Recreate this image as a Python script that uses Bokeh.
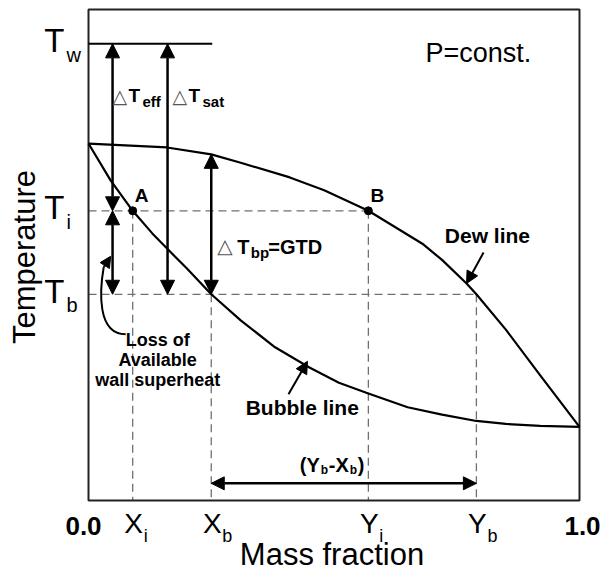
import numpy as np
from bokeh.plotting import figure
from bokeh.models import Range1d, Label, Arrow, NormalHead
from bokeh.embed import file_html
from bokeh.resources import INLINE

# ---------------- data ----------------
dew_x = [0.0, 0.16, 0.25, 0.31, 0.41, 0.48, 0.57, 0.68, 0.72, 0.77, 0.79, 0.85, 0.92, 1.0]
dew_t = [0.727, 0.719, 0.705, 0.688, 0.658, 0.632, 0.59, 0.523, 0.49, 0.442, 0.42, 0.348, 0.255, 0.15]
bub_x = [0.0, 0.045, 0.09, 0.13, 0.165, 0.2, 0.25, 0.31, 0.38, 0.45, 0.51, 0.57, 0.65, 0.72, 0.79, 0.85, 0.92, 1.0]
bub_t = [0.727, 0.652, 0.59, 0.544, 0.508, 0.473, 0.42, 0.367, 0.312, 0.271, 0.24, 0.218, 0.19, 0.175, 0.162, 0.156, 0.152, 0.15]

T_w, T_i, T_b = 0.93, 0.59, 0.42
X_i, X_b, Y_i, Y_b = 0.09, 0.25, 0.57, 0.79

y_tick_vals = [T_w, T_i, T_b]
y_tick_main = ["T", "T", "T"]
y_tick_subs = ["w", "i", "b"]
x_tick_vals = [X_i, X_b, Y_i, Y_b]
x_tick_main = ["X", "X", "Y", "Y"]
x_tick_subs = ["i", "b", "i", "b"]
end_tick_vals = [0.0, 1.0]
end_tick_labels = ["0.0", "1.0"]

# ---------------- layout ----------------
W, H = 615, 573
BOX = 491                 # pixels per data unit (square plotting box)
LEFT, BOTTOM = 88, 73     # room for the axis texts, in pixels
FONT = "Liberation Sans"
BASE_SHIFT = 0.36         # label anchor sits this many em above the baseline

p = figure(width=W, height=H,
           x_range=Range1d(-LEFT / BOX, (W - LEFT) / BOX),
           y_range=Range1d(-BOTTOM / BOX, (H - BOTTOM) / BOX),
           x_axis_type=None, y_axis_type=None, toolbar_location=None,
           output_backend="svg", min_border=0)
p.outline_line_color = None
p.background_fill_color = "white"
p.border_fill_color = "white"


def off(x, t, dx, dy):
    """data point shifted by screen pixels (dx right, dy down)"""
    return x + dx / BOX, t - dy / BOX


def lab(x, y, text, dx=0, dy=0, size=20, bold=False, align="left",
        font=FONT, color="black", angle=0.0):
    """dx, dy: offset (px, right / down) of the text baseline from the data point"""
    if angle:
        dx = dx - BASE_SHIFT * size
    else:
        dy = dy - BASE_SHIFT * size
    p.add_layout(Label(x=x, y=y, x_offset=dx, y_offset=-dy, text=text,
                       text_font=font, text_font_size=f"{size}px",
                       text_font_style="bold" if bold else "normal",
                       text_align=align, text_baseline="alphabetic",
                       text_color=color, angle=angle))


def arrow(x0, y0, x1, y1, both=True, size=14, width=2.5):
    head = lambda: NormalHead(size=size, fill_color="black", line_color="black", line_width=1)
    p.add_layout(Arrow(x_start=x0, y_start=y0, x_end=x1, y_end=y1,
                       start=head() if both else None, end=head(),
                       line_color="black", line_width=width))


# dashed guide lines
DASH = dict(line_color="#707070", line_width=1.3, line_dash="8 5")
p.segment(x0=[0, 0], y0=[T_i, T_b], x1=[Y_i, Y_b], y1=[T_i, T_b], **DASH)
p.segment(x0=x_tick_vals, y0=[T_i, T_b, T_i, T_b], x1=x_tick_vals,
          y1=[0, 0, 0, 0], **DASH)

# plotting box (mass fraction 0..1, temperature axis)
p.quad(left=[0], right=[1], bottom=[0], top=[1], fill_color=None,
       line_color="#222222", line_width=2)

# wall temperature line
p.segment(x0=[0], y0=[T_w], x1=[0.252], y1=[T_w], line_color="black", line_width=2)

# dew and bubble lines
p.line(dew_x, dew_t, line_color="black", line_width=2.2, line_join="round")
p.line(bub_x, bub_t, line_color="black", line_width=2.2, line_join="round")

# points A and B
p.scatter([X_i, Y_i], [T_i, T_i], size=8, color="black")

# ---------------- arrows ----------------
AX1, AX2 = 0.049, 0.161
arrow(AX1, T_w, AX1, T_i)
arrow(AX1, T_i, AX1, T_b)
arrow(AX2, T_w, AX2, T_b)
arrow(X_b, float(np.interp(X_b, dew_x, dew_t)), X_b, T_b)
arrow(X_b, 0.035, Y_b, 0.035, size=13)

# leader arrows to the lines
dx0 = 0.77
tip = (dx0, float(np.interp(dx0, dew_x, dew_t)))
arrow(*off(*tip, 17, -31), *tip, both=False, size=12, width=2)
bx0 = 0.446
tipb = off(bx0, float(np.interp(bx0, bub_x, bub_t)), 0, -5)
arrow(*off(*tipb, -19, 33), *tipb, both=False, size=12, width=2)

# curved leader for "Loss of available wall superheat"
P0 = off(X_i, T_b, -7, 40)
C0 = off(X_i, T_b, -36, 40)
C1 = off(X_i, T_b, -33, -4)
P1 = off(X_i, T_b, -29, -27)
p.bezier(x0=[P0[0]], y0=[P0[1]], x1=[P1[0]], y1=[P1[1]],
         cx0=[C0[0]], cy0=[C0[1]], cx1=[C1[0]], cy1=[C1[1]],
         line_color="black", line_width=2)
arrow(*P1, *off(X_i, T_b, -22, -38), both=False, size=11, width=2)

# ---------------- texts ----------------
for v, m, s in zip(y_tick_vals, y_tick_main, y_tick_subs):
    lab(0, v, m, dx=-24, dy=9, size=33, align="right")
    lab(0, v, s, dx=-22, dy=18, size=20)

for v, m, s in zip(x_tick_vals, x_tick_main, x_tick_subs):
    lab(v, 0, m, dx=1, dy=33, size=28, align="center")
    lab(v, 0, s, dx=11, dy=42, size=18)

for v, t, d in zip(end_tick_vals, end_tick_labels, [-5, 3]):
    lab(v, 0, t, dx=d, dy=35, size=26, bold=True, align="center")

lab(0.5, 0, "Mass fraction", dx=-2, dy=65, size=31, align="center")
lab(0, 0.5, "Temperature", dx=-53, dy=2, size=31, align="center", angle=np.pi / 2)
lab(1, 1, "P=const.", dx=-154, dy=53, size=27)

lab(X_i, T_i, "A", dx=9, dy=-8, size=19, bold=True, align="center")
lab(Y_i, T_i, "B", dx=9, dy=-8, size=19, bold=True, align="center")

TRI = "\u25B3"
# delta T_eff and delta T_sat
lab(0, T_w, TRI, dx=24, dy=58.6, size=19, font="DejaVu Sans", color="#555555")
lab(0, T_w, "T", dx=40, dy=58.6, size=19, bold=True)
lab(0, T_w, "eff", dx=54, dy=62.6, size=15, bold=True)
lab(0, T_w, TRI, dx=84, dy=58.6, size=19, font="DejaVu Sans", color="#555555")
lab(0, T_w, "T", dx=100, dy=58.6, size=19, bold=True)
lab(0, T_w, "sat", dx=114, dy=62.6, size=15, bold=True)

# delta T_bp = GTD
lab(X_b, T_b, TRI, dx=6, dy=-41, size=20, font="DejaVu Sans", color="#555555")
lab(X_b, T_b, "T", dx=26, dy=-40, size=20, bold=True)
lab(X_b, T_b, "bp", dx=39.5, dy=-36, size=15, bold=True)
lab(X_b, T_b, "=GTD", dx=57, dy=-40, size=20, bold=True)

# line names
lab(Y_b, T_b, "Dew line", dx=11, dy=-51, size=21, bold=True, align="center")
lab(X_b, T_b, "Bubble line", dx=91, dy=121, size=21, bold=True, align="center")

# loss of available wall superheat
for i, line in enumerate(["Loss of", "Available", "wall superheat"]):
    lab(X_i, T_b, line, dx=25, dy=52 + 20 * i, size=18, bold=True, align="center")

# (Y_b - X_b)
mid = (X_b + Y_b) / 2
for txt, dxx, dyy, sz in [("(Y", -44, 178, 20), ("b", -23, 180, 12), ("-X", -15, 178, 20),
                          ("b", 6, 180, 12), (")", 14, 178, 20)]:
    lab(mid, T_b, txt, dx=dxx, dy=dyy, size=sz, bold=True)

open("out.html", "w").write(file_html(p, INLINE))
